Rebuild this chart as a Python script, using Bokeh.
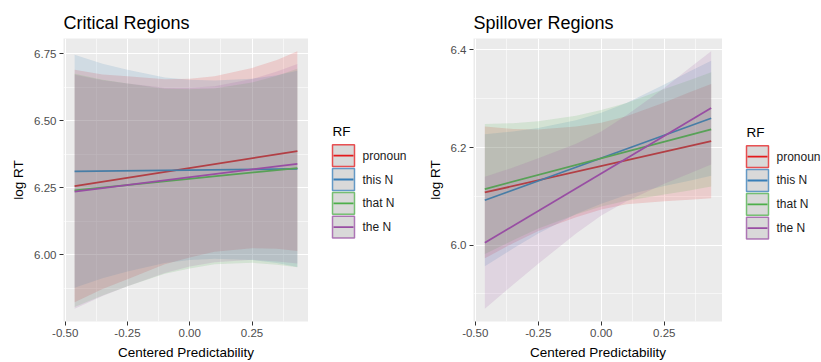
from bokeh.plotting import figure
from bokeh.models import Range1d, FixedTicker, NumeralTickFormatter
from bokeh.core.properties import value
from bokeh.layouts import row
from bokeh.embed import file_html
from bokeh.resources import INLINE

FONT = "Liberation Sans"

RF_LABELS = ["pronoun", "this N", "that N", "the N"]
RF_COLORS = ["#E41A1C", "#377EB8", "#4DAF4A", "#984EA3"]
LEGEND_TITLE = "RF"

X_TICKS = [-0.50, -0.25, 0.00, 0.25]
CRIT_Y_TICKS = [6.00, 6.25, 6.50, 6.75]
SPILL_Y_TICKS = [6.0, 6.2, 6.4]

# ---- Critical Regions: fitted lines (endpoints) ----
CRIT_X_LINE = [-0.462, 0.432]
CRIT_PRONOUN_LINE = [6.256, 6.386]
CRIT_THIS_LINE = [6.311, 6.320]
CRIT_THAT_LINE = [6.240, 6.323]
CRIT_THE_LINE = [6.235, 6.339]

# ---- Critical Regions: confidence bands ----
CRIT_X_BAND = [-0.462, -0.35, -0.25, -0.10, 0.00, 0.10, 0.25, 0.35, 0.432]
CRIT_PRONOUN_UPPER = [6.689, 6.672, 6.665, 6.654, 6.656, 6.665, 6.696, 6.726, 6.758]
CRIT_PRONOUN_LOWER = [5.823, 5.872, 5.909, 5.964, 5.990, 6.011, 6.024, 6.022, 6.014]
CRIT_THIS_UPPER = [6.745, 6.712, 6.689, 6.661, 6.652, 6.649, 6.656, 6.669, 6.686]
CRIT_THIS_LOWER = [5.877, 5.912, 5.937, 5.969, 5.980, 5.985, 5.980, 5.969, 5.954]
CRIT_THAT_UPPER = [6.675, 6.652, 6.638, 6.619, 6.617, 6.620, 6.642, 6.667, 6.693]
CRIT_THAT_LOWER = [5.805, 5.848, 5.882, 5.929, 5.949, 5.964, 5.970, 5.963, 5.953]
CRIT_THE_UPPER = [6.671, 6.650, 6.638, 6.622, 6.622, 6.628, 6.655, 6.683, 6.711]
CRIT_THE_LOWER = [5.799, 5.846, 5.882, 5.932, 5.956, 5.972, 5.981, 5.975, 5.967]

# ---- Spillover Regions: fitted lines (endpoints) ----
SPILL_X_LINE = [-0.462, 0.436]
SPILL_PRONOUN_LINE = [6.108, 6.213]
SPILL_THIS_LINE = [6.092, 6.260]
SPILL_THAT_LINE = [6.115, 6.237]
SPILL_THE_LINE = [6.005, 6.281]

# ---- Spillover Regions: confidence bands ----
SPILL_X_BAND = [-0.462, -0.35, -0.25, -0.10, 0.00, 0.10, 0.25, 0.35, 0.436]
SPILL_PRONOUN_UPPER = [6.243, 6.238, 6.237, 6.243, 6.251, 6.264, 6.292, 6.313, 6.330]
SPILL_PRONOUN_LOWER = [5.973, 6.004, 6.029, 6.057, 6.073, 6.084, 6.090, 6.093, 6.096]
SPILL_THIS_UPPER = [6.227, 6.233, 6.240, 6.256, 6.271, 6.291, 6.329, 6.356, 6.378]
SPILL_THIS_LOWER = [5.957, 5.993, 6.024, 6.064, 6.085, 6.103, 6.121, 6.132, 6.142]
SPILL_THAT_UPPER = [6.248, 6.250, 6.254, 6.265, 6.277, 6.291, 6.320, 6.338, 6.354]
SPILL_THAT_LOWER = [5.982, 6.010, 6.034, 6.063, 6.079, 6.091, 6.104, 6.112, 6.120]
SPILL_THE_UPPER = [6.140, 6.159, 6.178, 6.208, 6.233, 6.266, 6.322, 6.363, 6.397]
SPILL_THE_LOWER = [5.870, 5.919, 5.962, 6.024, 6.061, 6.090, 6.126, 6.147, 6.165]

HEIGHT = 362
TOP, BOTTOM = 38, 39


def expanded(lo, hi, frac=0.05):
    d = (hi - lo) * frac
    return lo - d, hi + d


def midpoints(ticks):
    step = ticks[1] - ticks[0]
    return [t + step / 2 for t in ticks] + [ticks[0] - step / 2]


def make_panel(title, width, left_border, x_line, lines, x_band, uppers, lowers,
               y_ticks, y_fmt):
    all_y = [v for arr in uppers + lowers for v in arr]
    yr = expanded(min(all_y), max(all_y))
    xr = expanded(min(x_band), max(x_band))
    p = figure(width=width, height=HEIGHT, output_backend="svg", toolbar_location=None,
               x_range=Range1d(*xr), y_range=Range1d(*yr),
               min_border_left=left_border, min_border_right=0,
               min_border_top=TOP, min_border_bottom=BOTTOM,
               background_fill_color="#EBEBEB", border_fill_color="white",
               outline_line_color=None, title=title)
    p.title.text_font = FONT
    p.title.text_font_size = "18px"
    p.title.text_font_style = "normal"
    p.title.text_color = "#000000"
    p.title.standoff = 11
    p.title.align = "left"

    p.xaxis.ticker = FixedTicker(ticks=X_TICKS, minor_ticks=midpoints(X_TICKS))
    p.yaxis.ticker = FixedTicker(ticks=y_ticks, minor_ticks=midpoints(y_ticks))
    for g in (p.xgrid, p.ygrid):
        g.grid_line_color = "white"
        g.grid_line_width = 1.1
        g.minor_grid_line_color = "white"
        g.minor_grid_line_width = 0.55
    p.xaxis.formatter = NumeralTickFormatter(format="0.00")
    p.yaxis.formatter = NumeralTickFormatter(format=y_fmt)
    for ax in (p.xaxis, p.yaxis):
        ax.axis_line_color = None
        ax.minor_tick_line_color = None
        ax.major_tick_line_color = "#333333"
        ax.major_tick_out = 4
        ax.major_tick_in = 0
        ax.major_label_text_font = FONT
        ax.major_label_text_font_size = "11.5px"
        ax.major_label_text_color = "#4D4D4D"
        ax.major_label_standoff = 3
        ax.axis_label_text_font = FONT
        ax.axis_label_text_font_size = "13.5px"
        ax.axis_label_text_font_style = "normal"
        ax.axis_label_text_color = "#000000"
        ax.axis_label_standoff = 5
    p.xaxis.axis_label = "Centered Predictability"
    p.yaxis.axis_label = "log RT"

    for col, ln, up, lo in zip(RF_COLORS, lines, uppers, lowers):
        p.varea(x=x_band, y1=lo, y2=up, fill_color=col, fill_alpha=0.15)
        p.line(x=x_line, y=ln, line_color=col, line_width=1.8)
    return p


def make_legend(width, key_left, key_top):
    # a small figure whose ranges are page pixels (y grows downwards)
    lg = figure(width=width, height=HEIGHT, output_backend="svg", toolbar_location=None,
                x_range=Range1d(0, width), y_range=Range1d(HEIGHT - BOTTOM, TOP),
                x_axis_location=None, y_axis_location=None,
                min_border_left=0, min_border_right=0,
                min_border_top=TOP, min_border_bottom=BOTTOM,
                outline_line_color=None, background_fill_color="white",
                border_fill_color="white")
    lg.grid.visible = False
    key_w, key_h, pitch = 22, 22, 24
    n = len(RF_LABELS)
    tops = [key_top + i * pitch for i in range(n)]
    lg.quad(left=[key_left] * n, right=[key_left + key_w] * n,
            top=tops, bottom=[t + key_h for t in tops],
            fill_color="#D9D9D9", line_color=RF_COLORS, line_alpha=0.75, line_width=1.5)
    mids = [t + key_h / 2 for t in tops]
    lg.segment(x0=[key_left + 1] * n, x1=[key_left + key_w - 1] * n, y0=mids, y1=mids,
               line_color=RF_COLORS, line_width=1.8)
    lg.text(x=[key_left + key_w + 8] * n, y=mids, text=RF_LABELS,
            text_font=value(FONT), text_font_size="12px", text_color="#1A1A1A",
            text_baseline="middle", text_align="left")
    lg.text(x=[key_left], y=[key_top - 6], text=[LEGEND_TITLE],
            text_font=value(FONT), text_font_size="13.5px", text_color="#000000",
            text_baseline="bottom", text_align="left")
    return lg


crit = make_panel("Critical Regions", 308, 63, CRIT_X_LINE,
                  [CRIT_PRONOUN_LINE, CRIT_THIS_LINE, CRIT_THAT_LINE, CRIT_THE_LINE],
                  CRIT_X_BAND,
                  [CRIT_PRONOUN_UPPER, CRIT_THIS_UPPER, CRIT_THAT_UPPER, CRIT_THE_UPPER],
                  [CRIT_PRONOUN_LOWER, CRIT_THIS_LOWER, CRIT_THAT_LOWER, CRIT_THE_LOWER],
                  CRIT_Y_TICKS, "0.00")
crit_legend = make_legend(110, 24, 145)
spill = make_panel("Spillover Regions", 304, 55, SPILL_X_LINE,
                   [SPILL_PRONOUN_LINE, SPILL_THIS_LINE, SPILL_THAT_LINE, SPILL_THE_LINE],
                   SPILL_X_BAND,
                   [SPILL_PRONOUN_UPPER, SPILL_THIS_UPPER, SPILL_THAT_UPPER, SPILL_THE_UPPER],
                   [SPILL_PRONOUN_LOWER, SPILL_THIS_LOWER, SPILL_THAT_LOWER, SPILL_THE_LOWER],
                   SPILL_Y_TICKS, "0.0")
spill_legend = make_legend(99, 24, 146)

layout = row(crit, crit_legend, spill, spill_legend)
open("out.html", "w").write(file_html(layout, INLINE))
